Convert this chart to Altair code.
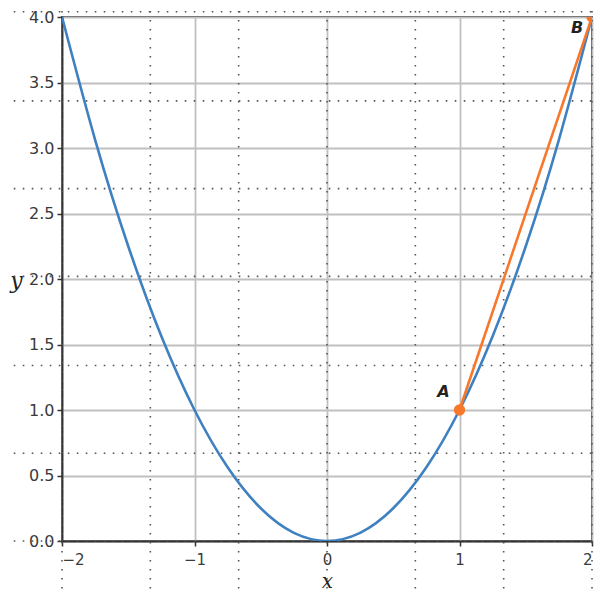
import altair as alt
import pandas as pd

# parabola y = x^2
curve_x = [-2, -1.75, -1.5, -1.25, -1, -0.75, -0.5, -0.25, 0, 0.25, 0.5, 0.75, 1, 1.25, 1.5, 1.75, 2]
curve_y = [4, 3.0625, 2.25, 1.5625, 1, 0.5625, 0.25, 0.0625, 0, 0.0625, 0.25, 0.5625, 1, 1.5625, 2.25, 3.0625, 4]

# secant A -> B
sec_x = [1, 2]
sec_y = [1, 4]
pt_labels = ["A", "B"]

# background dotted "paper" grid (data coordinates)
dot_vx = [-2, -4/3, -2/3, 0, 2/3, 4/3, 2]
dot_vy_range = [-0.5, 4.15]
dot_hy = [4.04, 3.36, 2.69, 2.02, 1.34, 0.67, 0.0]
dot_hx_range = [-2.5, 2.1]

y_ticks = [0, 0.5, 1, 1.5, 2, 2.5, 3, 3.5, 4]
x_ticks = [-2, -1, 0, 1, 2]

curve_df = pd.DataFrame({"x": curve_x, "y": curve_y})
sec_df = pd.DataFrame({"x": sec_x, "y": sec_y, "label": pt_labels})
vdf = pd.DataFrame({"x": dot_vx, "y": [dot_vy_range[0]] * len(dot_vx), "y2": [dot_vy_range[1]] * len(dot_vx)})
hdf = pd.DataFrame({"y": dot_hy, "x": [dot_hx_range[0]] * len(dot_hy), "x2": [dot_hx_range[1]] * len(dot_hy)})

xs = alt.Scale(domain=[-2, 2], nice=False, zero=False)
ys = alt.Scale(domain=[0, 4], nice=False, zero=False)

grid_color = "#c0c0c0"
axis_color = "#333333"
label_color = "#3a3a3a"

X = lambda: alt.X("x:Q", scale=xs, title="x")
Y = lambda: alt.Y("y:Q", scale=ys, title="y")

curve = alt.Chart(curve_df).mark_line(
    color="#3f80c0", strokeWidth=2.6, interpolate="natural", clip=True
).encode(
    x=alt.X("x:Q", scale=xs, title="x", axis=alt.Axis(
        values=x_ticks, format="d", grid=True, gridColor=grid_color, gridWidth=1.8,
        domainColor=axis_color, domainWidth=1.8, tickColor=axis_color, tickSize=5, tickWidth=1.5,
        labelFont="DejaVu Sans", labelFontSize=15, labelColor=label_color, labelPadding=6,
        titleFont="DejaVu Serif", titleFontStyle="italic", titleFontWeight="normal", titleFontSize=20,
        titleColor="#222222", titleY=40, titleBaseline="middle",
    )),
    y=alt.Y("y:Q", scale=ys, title="y", axis=alt.Axis(
        values=y_ticks, format=".1f", grid=True, gridColor=grid_color, gridWidth=1.8,
        domainColor=axis_color, domainWidth=1.8, tickColor=axis_color, tickSize=5, tickWidth=1.5,
        labelFont="DejaVu Sans", labelFontSize=16, labelColor=label_color, labelPadding=3,
        titleFont="DejaVu Serif", titleFontStyle="italic", titleFontWeight="normal", titleFontSize=22,
        titleColor="#222222", titleAngle=0, titleX=-46, titleY=263, titleAlign="center",
        titleBaseline="middle",
    )),
)

vdots = alt.Chart(vdf).mark_rule(
    color="#555555", strokeWidth=1.6, strokeDash=[1.6, 7.4], clip=False
).encode(x=X(), y=Y(), y2="y2:Q")

hdots = alt.Chart(hdf).mark_rule(
    color="#555555", strokeWidth=1.6, strokeDash=[1.6, 7.4], clip=False
).encode(y=Y(), x=X(), x2="x2:Q")

secant = alt.Chart(sec_df).mark_line(color="#f7772b", strokeWidth=2.6, clip=True).encode(x=X(), y=Y())

points = alt.Chart(sec_df).mark_circle(color="#f7772b", size=130, opacity=1, clip=True).encode(x=X(), y=Y())

lab_a = alt.Chart(sec_df[sec_df.label == "A"]).mark_text(
    font="DejaVu Sans", fontSize=16, fontWeight="bold", fontStyle="italic", color="#222222",
    dx=-16, dy=-18, align="center", baseline="middle"
).encode(x=X(), y=Y(), text="label:N")

lab_b = alt.Chart(sec_df[sec_df.label == "B"]).mark_text(
    font="DejaVu Sans", fontSize=16, fontWeight="bold", fontStyle="italic", color="#222222",
    dx=-15, dy=11, align="center", baseline="middle"
).encode(x=X(), y=Y(), text="label:N")

chart = alt.layer(vdots, hdots, curve, secant, points, lab_a, lab_b).properties(
    width=530, height=524,
    autosize=alt.AutoSizeParams(type="none"),
    padding={"left": 54, "top": 9, "right": 6, "bottom": 52},
).configure(background="white").configure_view(stroke=axis_color, strokeWidth=1.8)

chart.save("out.html", embed_options={"renderer": "svg", "actions": False})
